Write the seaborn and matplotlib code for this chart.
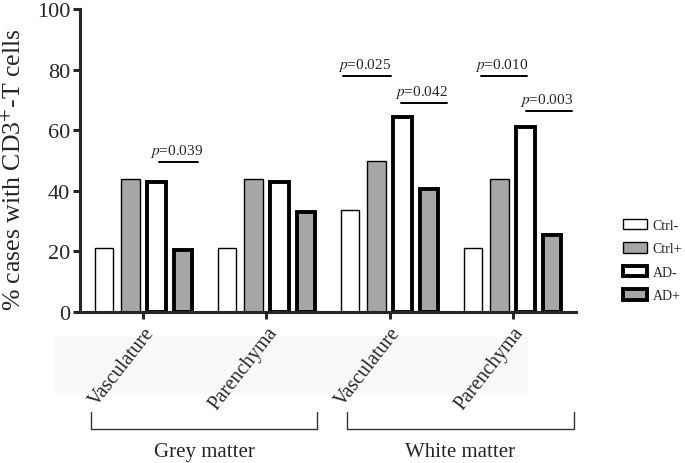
import numpy as np
import pandas as pd
import matplotlib
matplotlib.use('Agg')
import matplotlib.pyplot as plt
import seaborn as sns
from matplotlib.patches import Patch, Rectangle
from matplotlib.lines import Line2D

# datos
regiones = ['GM Vasculature', 'GM Parenchyma', 'WM Vasculature', 'WM Parenchyma']
etiquetas_x = ['Vasculature', 'Parenchyma', 'Vasculature', 'Parenchyma']
grupos = ['Ctrl-', 'Ctrl+', 'AD-', 'AD+']
ctrl_neg = [21, 21, 33.5, 21]
ctrl_pos = [44, 44, 50, 44]
ad_neg = [43, 43, 64.5, 61]
ad_pos = [20.5, 33, 40.5, 25.5]
materias = ['Grey matter', 'White matter']

# p valores: (region, desde, hasta, altura, texto)
p_regiones = [0, 2, 2, 3, 3]
p_desde = [0.13, -0.38, 0.09, -0.26, 0.11]
p_hasta = [0.44, 0.01, 0.47, 0.12, 0.48]
p_altura = [49.5, 77.9, 69, 77.9, 66.3]
p_textos = ['0.039', '0.025', '0.042', '0.010', '0.003']

sns.set_style('ticks')
plt.rcParams['font.family'] = ['Liberation Serif', 'DejaVu Serif']
plt.rcParams['mathtext.fontset'] = 'stix'

df = pd.DataFrame({
    'region': np.repeat(regiones, 4),
    'grupo': grupos * 4,
    'pct': np.ravel(np.column_stack([ctrl_neg, ctrl_pos, ad_neg, ad_pos])),
})

gris = '#a6a6a6'
colores = {'Ctrl-': 'white', 'Ctrl+': gris, 'AD-': 'white', 'AD+': gris}
grosor = {'Ctrl-': 1.0, 'Ctrl+': 1.0, 'AD-': 2.8, 'AD+': 2.8}

fig = plt.figure(figsize=(6.85, 4.64), dpi=100)
fig.patches.append(Rectangle((55 / 685, 1 - 393 / 464), 472 / 685, 55 / 464,
                             transform=fig.transFigure, color='#f9f9f9', zorder=-5))
ax = fig.add_axes([80 / 685, 1 - 313 / 464, 496 / 685, 303 / 464])
ax.patch.set_alpha(0)

sns.barplot(data=df, x='region', y='pct', hue='grupo', order=regiones, hue_order=grupos,
            palette=colores, width=0.856, gap=0.3, edgecolor='black', linewidth=1,
            saturation=1, legend=False, ax=ax)
for cont, g in zip(ax.containers, grupos):
    for barra in cont:
        barra.set_linewidth(grosor[g])

ax.set_xlim(-0.516, 3.516)
ax.set_ylim(0, 100)
ax.set_yticks([0, 20, 40, 60, 80, 100])
ax.set_xticks(range(4))
ax.set_xticklabels(etiquetas_x, rotation=52, ha='right', va='top', rotation_mode='anchor', fontsize=14.5)
ax.tick_params(axis='y', labelsize=16, width=2.2, length=5, pad=2)
ax.tick_params(axis='x', width=2.2, length=5, pad=3)
ax.set_xlabel('')
ax.set_ylabel('')
fig.text(14 / 685, 1 - 170 / 464, '% cases with CD3$^{+}$-T cells', rotation=90,
         ha='center', va='center', fontsize=18.5)
for lado in ['left', 'bottom']:
    ax.spines[lado].set_linewidth(2.2)
sns.despine(ax=ax)

# lineas de significancia
for r, a, b, h, t in zip(p_regiones, p_desde, p_hasta, p_altura, p_textos):
    ax.plot([r + a, r + b], [h, h], color='black', lw=1.4, clip_on=False)
    ax.text(r + (a + b) / 2 - 0.02, h + 1, '$p$=' + t, ha='center', va='bottom', fontsize=11)

# llaves de materia gris / blanca
trans = ax.get_xaxis_transform()
for (x0, x1), nombre in zip([(-0.427, 1.41), (1.655, 3.5)], materias):
    ax.add_line(Line2D([x0, x0, x1, x1], [-0.33, -0.386, -0.386, -0.33], transform=trans,
                       color='#333333', lw=1.0, clip_on=False))
    ax.text((x0 + x1) / 2, -0.46, nombre, transform=trans, ha='center', va='center', fontsize=15)

manijas = [Patch(facecolor=colores[g], edgecolor='black', linewidth=grosor[g]) for g in grupos]
fig.legend(manijas, grupos, loc='center left', bbox_to_anchor=(623 / 685, 1 - 261.5 / 464),
           frameon=False, fontsize=10, handlelength=1.75, handleheight=0.8,
           handletextpad=0.4, labelspacing=0.75, borderpad=0, borderaxespad=0)

plt.savefig('out.png', dpi=100)
